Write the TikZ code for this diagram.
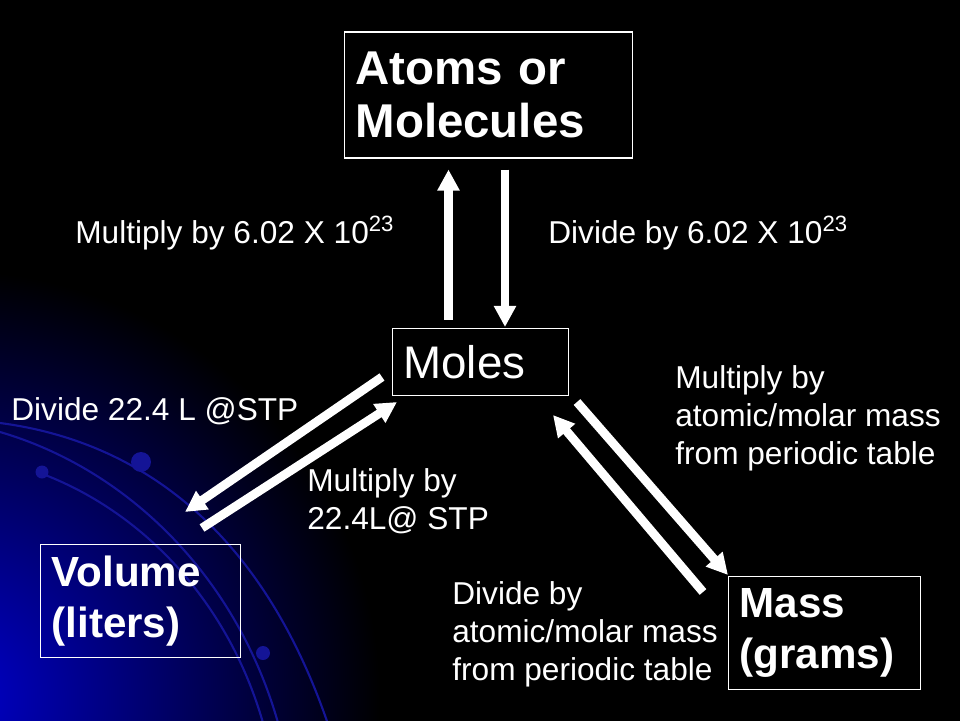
\documentclass[tikz,border=0pt]{standalone}
\usepackage{fontspec}
\setmainfont{Liberation Sans}
\usetikzlibrary{arrows.meta,calc}
\definecolor{glowblue}{RGB}{0,0,205}
\definecolor{arcblue}{RGB}{20,20,150}

\begin{document}
\begin{tikzpicture}[
    x=0.02cm, y=-0.02cm,
    box/.style={draw=white, line width=0.6pt, inner xsep=0.22cm, inner ysep=0pt,
                align=left, text=white},
    title/.style={box, font=\fontsize{27}{30}\selectfont\bfseries},
    qty/.style={box, font=\fontsize{24}{29}\selectfont\bfseries},
    arr/.style={-{Triangle[length=12pt,width=12pt]}, draw=white, line width=5pt},
    lbl/.style={text=white, inner sep=0pt, align=left,
                font=\fontsize{18}{21.6}\selectfont}
  ]
  \useasboundingbox (0,0) rectangle (960,720);

  % Background
  \fill[black] (-10,-10) rectangle (970,730);
  \begin{scope}
    \clip (-10,-10) rectangle (970,730);
    \shade[inner color=glowblue, outer color=black] (-50,700) circle (8.6cm);
    \draw[arcblue, line width=1.2pt] (0,423) .. controls (130,440) and (260,520) .. (330,730);
    \draw[arcblue, line width=1.2pt] (0,432) .. controls (130,470) and (240,580) .. (280,730);
    \draw[arcblue, line width=1.2pt] (40,473) .. controls (140,510) and (230,600) .. (265,730);
    \fill[arcblue] (42,472) circle (0.13cm);
    \fill[arcblue] (141,462) circle (0.2cm);
    \fill[arcblue] (263,653) circle (0.14cm);
  \end{scope}

  % Quantities
  \node[title, text width=5.32cm, minimum height=2.52cm] (atoms) at (488.5,95)
    {Atoms or\\Molecules};
  \node[box, font=\fontsize{26}{30}\selectfont, text width=3.08cm,
        minimum height=1.34cm] (moles) at (480.5,362) {Moles};
  \node[qty, text width=3.56cm, minimum height=2.26cm] (volume) at (140.5,601)
    {Volume\\(liters)};
  \node[qty, text width=3.40cm, minimum height=2.26cm] (mass) at (824.5,633)
    {Mass\\(grams)};

  % Conversions
  \draw[arr] ($(moles.north)+(-32,-8)$) -- ($(atoms.south)+(-40,11)$);
  \draw[arr] ($(atoms.south)+(16.5,11)$) -- ($(moles.north)+(24.5,-1)$);
  \draw[arr] ($(moles.west)+(-10,15)$) -- ($(volume.north east)+(-56,-32)$);
  \draw[arr] ($(volume.north east)+(-39,-16)$) -- ($(moles.south west)+(5,6)$);
  \draw[arr] ($(moles.south east)+(8,6)$) -- ($(mass.north west)+(0,-1)$);
  \draw[arr] ($(mass.north west)+(-25,16)$) -- ($(moles.south east)+(-16,19)$);

  % Labels
  \node[lbl, anchor=base west] (mulavo) at (75,243)
    {Multiply by 6.02 X 10\textsuperscript{23}};
  \node[lbl, anchor=base west] (divavo) at (548,243)
    {Divide by 6.02 X 10\textsuperscript{23}};
  \node[lbl, anchor=base west] (divstp) at (11,420) {Divide 22.4 L @STP};
  \node[lbl, anchor=north west] (mulstp) at (307,468)
    {Multiply by\\22.4L@ STP};
  \node[lbl, anchor=north west] (mulmm) at (675,365)
    {Multiply by\\atomic/molar mass\\from periodic table};
  \node[lbl, anchor=north west] (divmm) at (452,581)
    {Divide by\\atomic/molar mass\\from periodic table};
\end{tikzpicture}
\end{document}
